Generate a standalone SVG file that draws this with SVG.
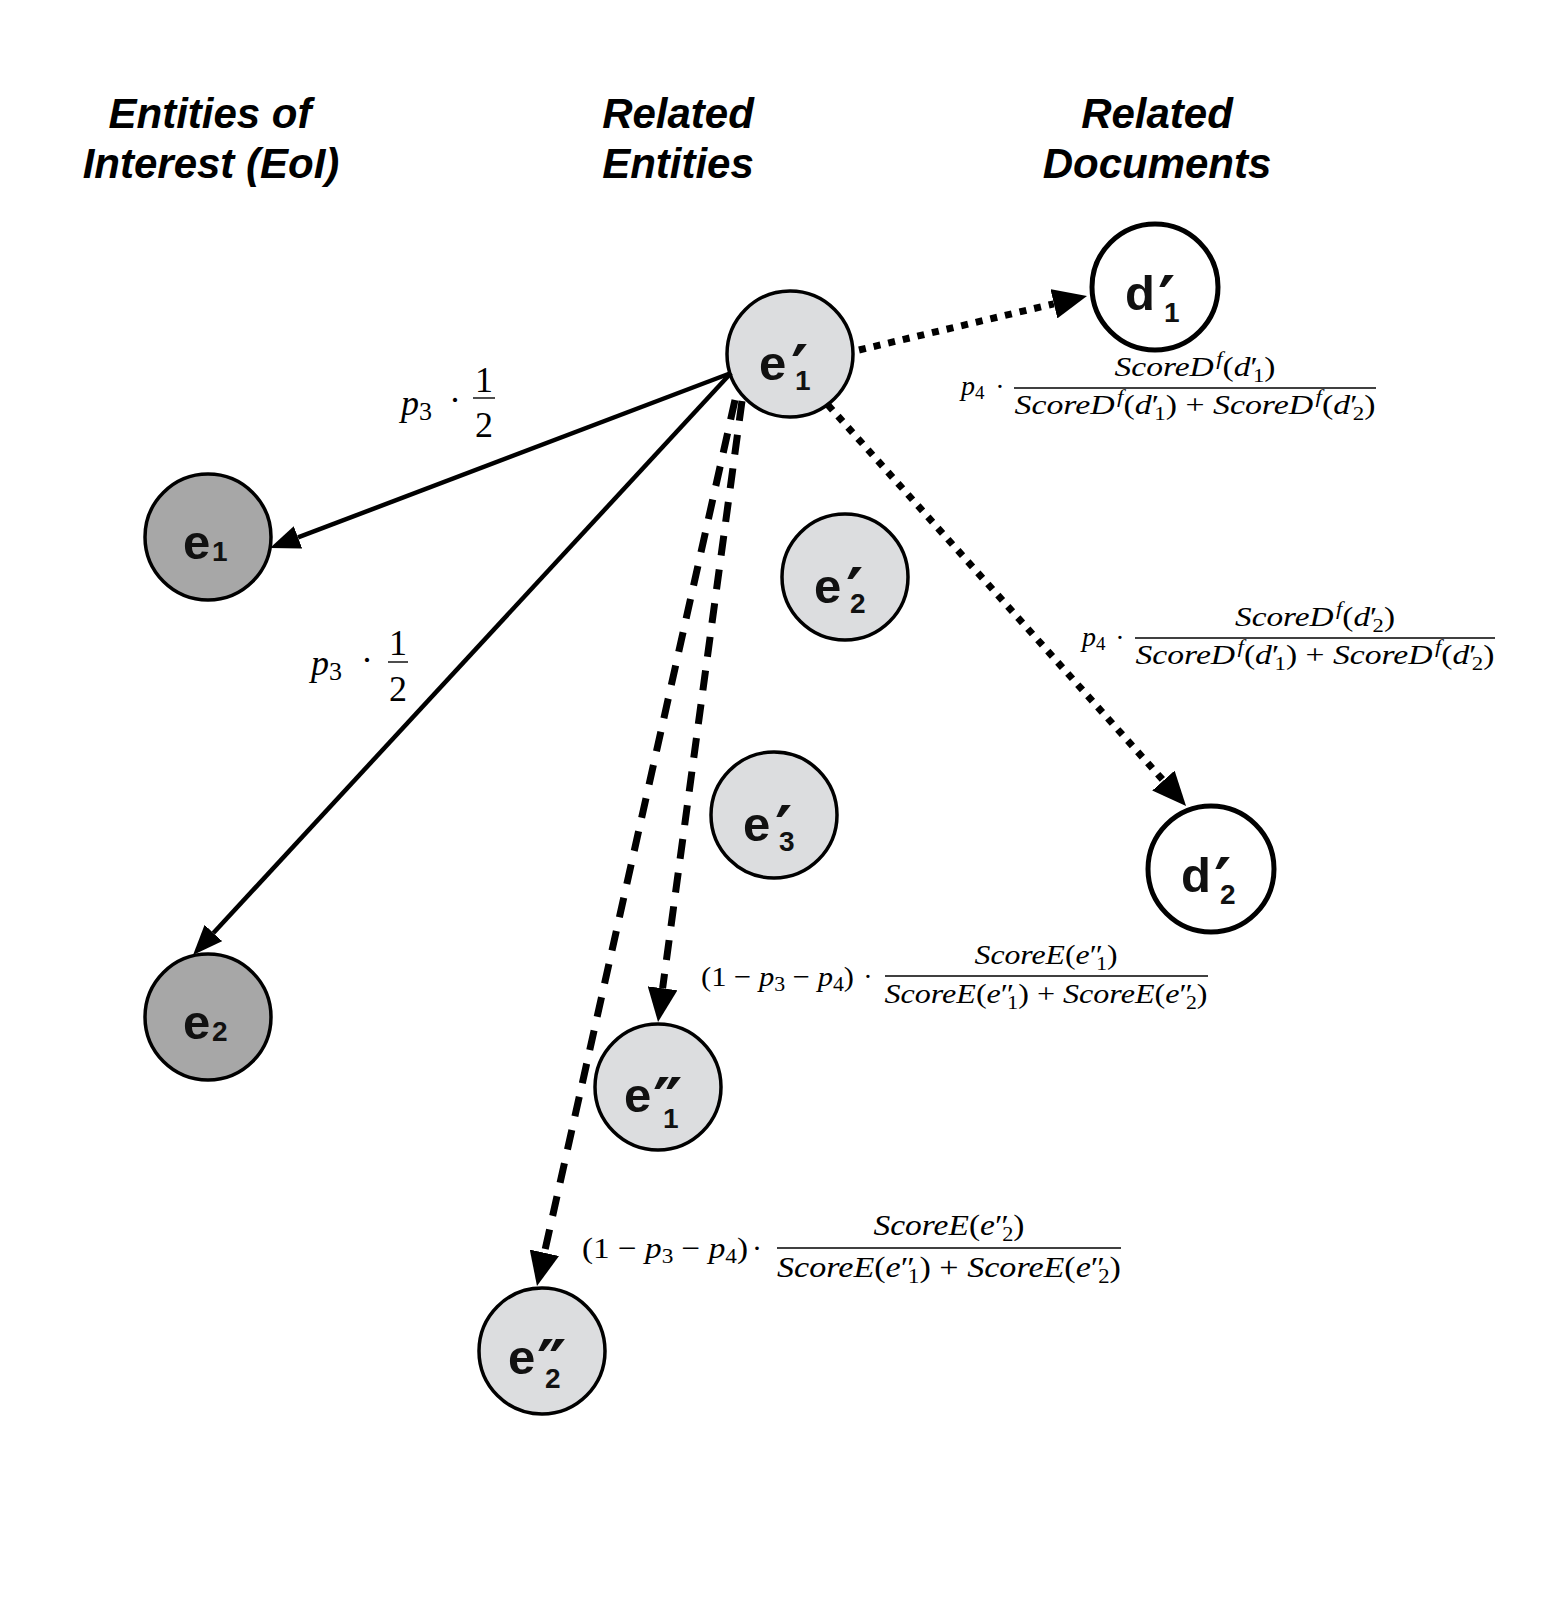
<svg xmlns="http://www.w3.org/2000/svg" width="1562" height="1600" viewBox="0 0 1562 1600">
<defs>
<style>
.title{font-family:"Liberation Sans",Arial,sans-serif;font-weight:bold;font-style:italic;font-size:42px;text-anchor:middle;fill:#000}
.nc{stroke:#000;stroke-width:3.5}
.eoi{fill:#a7a7a7}
.rel{fill:#dcdddf}
.doc{fill:#fff;stroke-width:5}
.lbl{font-family:"Liberation Sans",Arial,sans-serif;font-weight:bold;font-size:49px;fill:#111}
.sub{font-size:28px}
.pr{font-family:"DejaVu Sans",sans-serif;font-weight:bold;font-size:66px}
.solid{stroke:#000;stroke-width:4.5;fill:none}
.dot{stroke:#000;stroke-width:7;fill:none;stroke-dasharray:7 8}
.dash{stroke:#000;stroke-width:7;fill:none;stroke-dasharray:20 14}
.m{font-family:"Liberation Serif","Times New Roman",serif;font-size:28px;font-style:italic;fill:#000}
.m36{font-size:36px}
.m30{font-size:30px}
.r{font-style:normal}
.bar{stroke:#000;stroke-width:1.4}
</style>
<marker id="ah" markerUnits="userSpaceOnUse" markerWidth="30" markerHeight="24" refX="0" refY="12" orient="auto"><path d="M0,0 L30,12 L0,24 z" fill="#000"/></marker>
<marker id="ahb" markerUnits="userSpaceOnUse" markerWidth="34" markerHeight="30" refX="0" refY="15" orient="auto"><path d="M0,0 L34,15 L0,30 z" fill="#000"/></marker>
</defs>
<rect width="1562" height="1600" fill="#fff"/>

<g id="titles">
<text class="title" x="210" y="128">Entities of</text>
<text class="title" x="211" y="178">Interest (EoI)</text>
<text class="title" x="678" y="128">Related</text>
<text class="title" x="678" y="178">Entities</text>
<text class="title" x="1157" y="128">Related</text>
<text class="title" x="1157" y="178">Documents</text>
</g>

<g id="node-e1"><circle class="nc eoi" cx="208" cy="537" r="63"/><text class="lbl" x="183" y="559">e<tspan class="sub" x="212" y="561">1</tspan></text></g>
<g id="node-e2"><circle class="nc eoi" cx="208" cy="1017" r="63"/><text class="lbl" x="183" y="1039">e<tspan class="sub" x="212" y="1041">2</tspan></text></g>
<g id="node-e1p"><circle class="nc rel" cx="790" cy="354" r="63"/><text class="lbl" x="759" y="380">e<tspan class="pr" x="791" y="392">′</tspan><tspan class="sub" x="795" y="390">1</tspan></text></g>
<g id="node-e2p"><circle class="nc rel" cx="845" cy="577" r="63"/><text class="lbl" x="814" y="603">e<tspan class="pr" x="846" y="615">′</tspan><tspan class="sub" x="850" y="613">2</tspan></text></g>
<g id="node-e3p"><circle class="nc rel" cx="774" cy="815" r="63"/><text class="lbl" x="743" y="841">e<tspan class="pr" x="775" y="853">′</tspan><tspan class="sub" x="779" y="851">3</tspan></text></g>
<g id="node-e1pp"><circle class="nc rel" cx="658" cy="1087" r="63"/><text class="lbl" x="624" y="1112">e<tspan class="pr" x="653" y="1125">″</tspan><tspan class="sub" x="663" y="1128">1</tspan></text></g>
<g id="node-e2pp"><circle class="nc rel" cx="542" cy="1351" r="63"/><text class="lbl" x="508" y="1374">e<tspan class="pr" x="537" y="1387">″</tspan><tspan class="sub" x="545" y="1388">2</tspan></text></g>
<g id="node-d1p"><circle class="nc doc" cx="1155" cy="287" r="63"/><text class="lbl" x="1125" y="310">d<tspan class="pr" x="1158" y="323">′</tspan><tspan class="sub" x="1164" y="322">1</tspan></text></g>
<g id="node-d2p"><circle class="nc doc" cx="1211" cy="869" r="63"/><text class="lbl" x="1181" y="892">d<tspan class="pr" x="1214" y="905">′</tspan><tspan class="sub" x="1220" y="904">2</tspan></text></g>

<g id="connectors">
<line class="solid" x1="731" y1="373" x2="298" y2="537.4" marker-end="url(#ah)"/>
<line class="solid" x1="731" y1="373" x2="213.4" y2="933" marker-end="url(#ah)"/>
<line class="dot" x1="859" y1="350" x2="1053.9" y2="303.8" marker-end="url(#ahb)"/>
<line class="dot" x1="828" y1="405" x2="1163.4" y2="780.6" marker-end="url(#ahb)"/>
<line class="dash" x1="742" y1="401" x2="662.6" y2="988.3" marker-end="url(#ahb)"/>
<line class="dash" x1="735" y1="400" x2="544.4" y2="1252.8" marker-end="url(#ahb)"/>
</g>

<g id="label-p3-a">
<text class="m m36" x="401" y="415">p<tspan class="r" font-size="26" dy="5">3</tspan></text>
<text class="m m36 r" x="455" y="412" text-anchor="middle">·</text>
<text class="m m36 r" x="484" y="392" text-anchor="middle">1</text>
<line class="bar" x1="473" y1="398" x2="495" y2="398" stroke-width="1.8"/>
<text class="m m36 r" x="484" y="437" text-anchor="middle">2</text>
</g>
<g id="label-p3-b">
<text class="m m36" x="311" y="675">p<tspan class="r" font-size="26" dy="5">3</tspan></text>
<text class="m m36 r" x="367" y="672" text-anchor="middle">·</text>
<text class="m m36 r" x="398" y="655" text-anchor="middle">1</text>
<line class="bar" x1="388" y1="662" x2="408" y2="662" stroke-width="1.8"/>
<text class="m m36 r" x="398" y="701" text-anchor="middle">2</text>
</g>

<g id="label-d1">
<text class="m" x="961" y="395">p<tspan class="r" font-size="19" dy="4">4</tspan></text>
<text class="m r" x="1000" y="396" text-anchor="middle">·</text>
<text class="m" x="1195" y="376" text-anchor="middle" textLength="161" lengthAdjust="spacingAndGlyphs">ScoreD<tspan font-size="19" dy="-11" dx="2">f</tspan><tspan class="r" dy="11">(</tspan>d<tspan class="r">′</tspan><tspan class="r" font-size="19" dy="6" dx="-4">1</tspan><tspan class="r" dy="-6">)</tspan></text>
<line class="bar" x1="1014" y1="388" x2="1376" y2="388"/>
<text class="m" x="1195" y="414" text-anchor="middle" textLength="361" lengthAdjust="spacingAndGlyphs">ScoreD<tspan font-size="19" dy="-11" dx="2">f</tspan><tspan class="r" dy="11">(</tspan>d<tspan class="r">′</tspan><tspan class="r" font-size="19" dy="6" dx="-4">1</tspan><tspan class="r" dy="-6">) + </tspan>ScoreD<tspan font-size="19" dy="-11" dx="2">f</tspan><tspan class="r" dy="11">(</tspan>d<tspan class="r">′</tspan><tspan class="r" font-size="19" dy="6" dx="-4">2</tspan><tspan class="r" dy="-6">)</tspan></text>
</g>

<g id="label-d2">
<text class="m" x="1082" y="646">p<tspan class="r" font-size="19" dy="4">4</tspan></text>
<text class="m r" x="1120" y="647" text-anchor="middle">·</text>
<text class="m" x="1315" y="626" text-anchor="middle" textLength="160" lengthAdjust="spacingAndGlyphs">ScoreD<tspan font-size="19" dy="-11" dx="2">f</tspan><tspan class="r" dy="11">(</tspan>d<tspan class="r">′</tspan><tspan class="r" font-size="19" dy="6" dx="-4">2</tspan><tspan class="r" dy="-6">)</tspan></text>
<line class="bar" x1="1135" y1="638" x2="1495" y2="638"/>
<text class="m" x="1315" y="664" text-anchor="middle" textLength="359" lengthAdjust="spacingAndGlyphs">ScoreD<tspan font-size="19" dy="-11" dx="2">f</tspan><tspan class="r" dy="11">(</tspan>d<tspan class="r">′</tspan><tspan class="r" font-size="19" dy="6" dx="-4">1</tspan><tspan class="r" dy="-6">) + </tspan>ScoreD<tspan font-size="19" dy="-11" dx="2">f</tspan><tspan class="r" dy="11">(</tspan>d<tspan class="r">′</tspan><tspan class="r" font-size="19" dy="6" dx="-4">2</tspan><tspan class="r" dy="-6">)</tspan></text>
</g>

<g id="label-e1pp">
<text class="m" x="701" y="986" textLength="153" lengthAdjust="spacingAndGlyphs"><tspan class="r">(1 − </tspan>p<tspan class="r" font-size="20" dy="5">3</tspan><tspan class="r" dy="-5"> − </tspan>p<tspan class="r" font-size="20" dy="5">4</tspan><tspan class="r" dy="-5">)</tspan></text>
<text class="m r" x="868" y="986" text-anchor="middle">·</text>
<text class="m" x="1046" y="964" text-anchor="middle" textLength="143" lengthAdjust="spacingAndGlyphs">ScoreE<tspan class="r">(</tspan>e<tspan class="r">″</tspan><tspan class="r" font-size="19" dy="6" dx="-6">1</tspan><tspan class="r" dy="-6">)</tspan></text>
<line class="bar" x1="885" y1="976" x2="1208" y2="976"/>
<text class="m" x="1046" y="1003" text-anchor="middle" textLength="323" lengthAdjust="spacingAndGlyphs">ScoreE<tspan class="r">(</tspan>e<tspan class="r">″</tspan><tspan class="r" font-size="19" dy="6" dx="-6">1</tspan><tspan class="r" dy="-6">) + </tspan>ScoreE<tspan class="r">(</tspan>e<tspan class="r">″</tspan><tspan class="r" font-size="19" dy="6" dx="-6">2</tspan><tspan class="r" dy="-6">)</tspan></text>
</g>

<g id="label-e2pp">
<text class="m m30" x="582" y="1258" textLength="166" lengthAdjust="spacingAndGlyphs"><tspan class="r">(1 − </tspan>p<tspan class="r" font-size="21" dy="5">3</tspan><tspan class="r" dy="-5"> − </tspan>p<tspan class="r" font-size="21" dy="5">4</tspan><tspan class="r" dy="-5">)</tspan></text>
<text class="m m30 r" x="757" y="1258" text-anchor="middle">·</text>
<text class="m m30" x="949" y="1235" text-anchor="middle" textLength="151" lengthAdjust="spacingAndGlyphs">ScoreE<tspan class="r">(</tspan>e<tspan class="r">″</tspan><tspan class="r" font-size="20" dy="6" dx="-6">2</tspan><tspan class="r" dy="-6">)</tspan></text>
<line class="bar" x1="777" y1="1248" x2="1121" y2="1248"/>
<text class="m m30" x="949" y="1277" text-anchor="middle" textLength="344" lengthAdjust="spacingAndGlyphs">ScoreE<tspan class="r">(</tspan>e<tspan class="r">″</tspan><tspan class="r" font-size="20" dy="6" dx="-6">1</tspan><tspan class="r" dy="-6">) + </tspan>ScoreE<tspan class="r">(</tspan>e<tspan class="r">″</tspan><tspan class="r" font-size="20" dy="6" dx="-6">2</tspan><tspan class="r" dy="-6">)</tspan></text>
</g>
</svg>
